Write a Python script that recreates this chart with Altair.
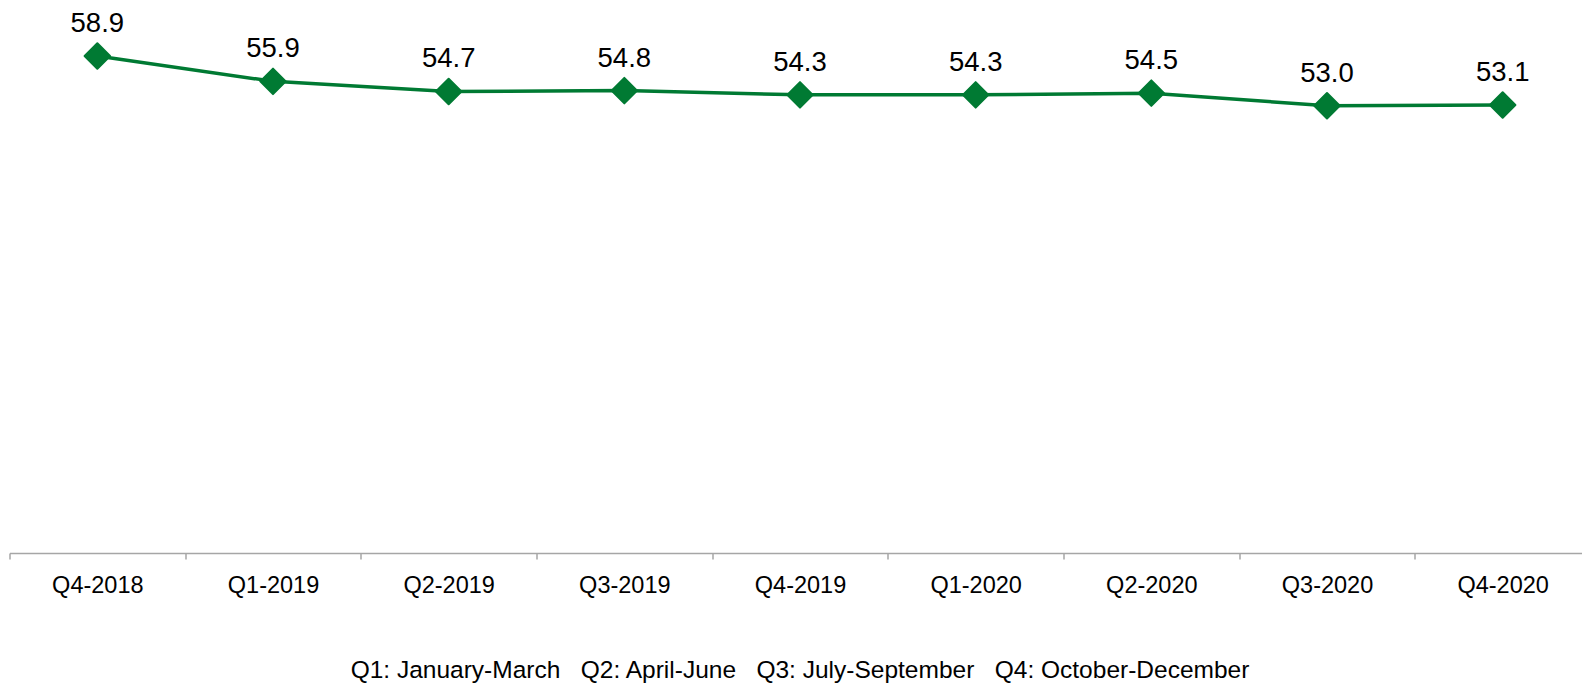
import altair as alt
import pandas as pd

quarters = ["Q4-2018", "Q1-2019", "Q2-2019", "Q3-2019", "Q4-2019",
            "Q1-2020", "Q2-2020", "Q3-2020", "Q4-2020"]
values = [58.9, 55.9, 54.7, 54.8, 54.3, 54.3, 54.5, 53.0, 53.1]
footer = "Q1: January-March\u00a0\u00a0 Q2: April-June\u00a0\u00a0 Q3: July-September\u00a0\u00a0 Q4: October-December"

GREEN = "#007A33"

df = pd.DataFrame({"quarter": quarters, "value": values})
df["label"] = df["value"].map(lambda v: f"{v:.1f}")

x = alt.X("quarter:N", sort=quarters, bandPosition=0.5,
          scale=alt.Scale(type="band", paddingInner=0, paddingOuter=0),
          axis=alt.Axis(title=None, labelAngle=0, tickBand="extent",
                        domainColor="#A6A6A6", tickColor="#A6A6A6",
                        domainWidth=1.5, tickWidth=1.5, tickSize=6,
                        labelPadding=14, labelFontSize=23.5,
                        labelFont="Liberation Sans", labelColor="#000000"))
y = alt.Y("value:Q", scale=alt.Scale(domain=[0, 64], nice=False, zero=True), axis=None)

base = alt.Chart(df).encode(x=x, y=y)

line = base.mark_line(color=GREEN, strokeWidth=3.5)
pts = base.mark_point(shape="diamond", filled=True, size=650, color=GREEN,
                      stroke=GREEN, strokeWidth=2, strokeJoin="round", opacity=1)
labels = base.mark_text(dy=-24, baseline="alphabetic", fontSize=27.5,
                        font="Liberation Sans", color="#000000").encode(text="label:N")

chart = (line + pts + labels).properties(
    width=1581, height=540,
    title=alt.TitleParams(footer, orient="bottom", anchor="middle", offset=62,
                          fontSize=24.5, font="Liberation Sans",
                          fontWeight="normal", color="#000000"),
    autosize=alt.AutoSizeParams(type="none"),
    padding={"left": 1.5, "top": 5, "right": -8.5, "bottom": 130},
).configure(background="white").configure_view(strokeWidth=0, stroke="transparent")

chart.save("out.html", embed_options={"renderer": "svg", "actions": False})
